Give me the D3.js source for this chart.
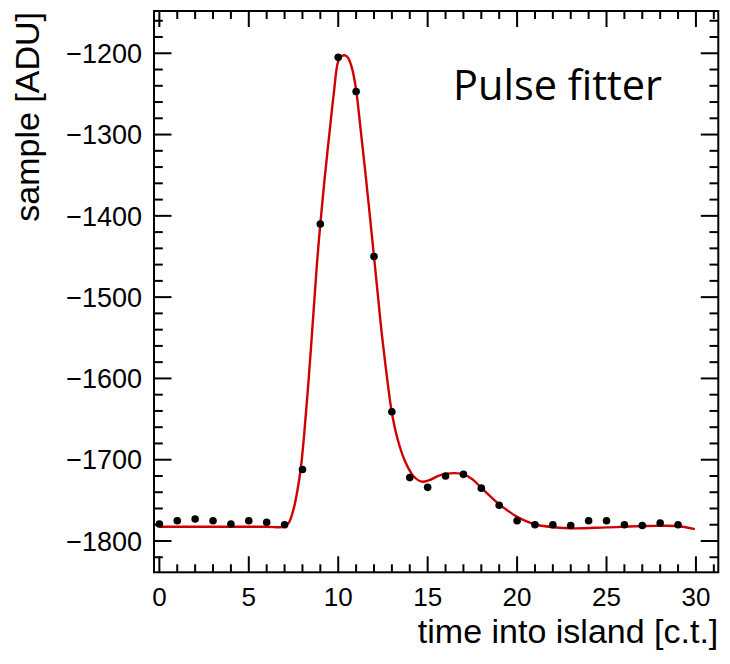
<!DOCTYPE html>
<html>
<head>
<meta charset="utf-8">
<script src="https://cdn.jsdelivr.net/npm/d3@7"></script>
<style>
  html, body { margin: 0; padding: 0; background: #fff; }
  svg { display: block; }
</style>
</head>
<body>
<svg id="chart" width="730" height="664"></svg>
<script>
// ---- data ----
const sampleTimes = [0,1,2,3,4,5,6,7,8,9,10,11,12,13,14,15,16,17,18,19,20,21,22,23,24,25,26,27,28,29];
const sampleValues = [-1779,-1775,-1773,-1775,-1779,-1775,-1777,-1780,-1712,-1410,-1205,-1247,-1450,-1641,
                      -1722,-1734,-1720,-1718,-1735,-1756,-1775,-1780,-1780,-1781,-1775,-1775,-1780,-1781,-1778,-1780];

// fitted pulse curve
const fitTimes  = [0, 3, 6, 7.0, 7.25, 7.5, 7.7, 7.9, 8.1, 8.35, 8.6, 8.8, 9.0, 9.25, 9.5, 9.75, 10.0, 10.2, 10.35,
                   10.55, 10.8, 11.0, 11.25, 11.5, 11.75, 12.0, 12.25, 12.45, 12.7, 12.99, 13.3, 13.7, 14.2, 14.67,
                   15.1, 15.6, 16.0, 16.53, 17.0, 17.5, 17.93, 18.45, 18.95, 19.5, 19.98, 20.5, 21.1, 22.02, 23.14,
                   25.0, 27.24, 28.92, 29.94];
const fitValues = [-1782.5, -1782.5, -1782.5, -1782.3, -1777, -1761, -1740, -1712, -1668, -1600, -1524, -1462, -1410,
                   -1352, -1300, -1250, -1210, -1203.5, -1202.5, -1205.5, -1221, -1245, -1293, -1343, -1396, -1450,
                   -1505, -1548, -1594, -1641, -1673, -1700, -1720, -1727, -1725, -1720, -1717.5, -1716.5, -1718,
                   -1724, -1733, -1744, -1754, -1763, -1770, -1775.5, -1780, -1783, -1784.4, -1783.2, -1781.6,
                   -1781.6, -1785.3];

const xMajorTicks = [0, 5, 10, 15, 20, 25, 30];
const xTickLabels = ["0", "5", "10", "15", "20", "25", "30"];
const yMajorTicks = [-1800, -1700, -1600, -1500, -1400, -1300, -1200];
const yTickLabels = ["\u22121800", "\u22121700", "\u22121600", "\u22121500", "\u22121400", "\u22121300", "\u22121200"];
const xMinorTicks = d3.range(0, 32, 1);
const yMinorTicks = d3.range(-1820, -1150, 20);

const xTitle = "time into island [c.t.]";
const yTitle = "sample [ADU]";
const label = "Pulse fitter";

// ---- layout ----
const frame = { left: 154, right: 718.3, top: 11, bottom: 572.3 };
const x = d3.scaleLinear().domain([-0.3, 31.25]).range([frame.left, frame.right]);
const y = d3.scaleLinear().domain([-1838.5, -1148]).range([frame.bottom, frame.top]);

const svg = d3.select("#chart");
const fontAxis = "'Liberation Sans', Arial, Helvetica, sans-serif";

// ticks on all four sides, pointing inward
const xMajLen = 16, xMinLen = 8, yMajLen = 17.5, yMinLen = 8.8;
const tickG = svg.append("g").attr("stroke", "#000").attr("stroke-width", 2);

function vTicks(vals, len, yEdge, dir) {
  tickG.selectAll(null).data(vals).enter().append("line")
    .attr("x1", d => x(d)).attr("x2", d => x(d))
    .attr("y1", yEdge).attr("y2", yEdge + dir * len);
}
function hTicks(vals, len, xEdge, dir) {
  tickG.selectAll(null).data(vals).enter().append("line")
    .attr("y1", d => y(d)).attr("y2", d => y(d))
    .attr("x1", xEdge).attr("x2", xEdge + dir * len);
}
const xMinorOnly = xMinorTicks.filter(v => !xMajorTicks.includes(v));
const yMinorOnly = yMinorTicks.filter(v => !yMajorTicks.includes(v));
vTicks(xMajorTicks, xMajLen, frame.bottom, -1);
vTicks(xMinorOnly, xMinLen, frame.bottom, -1);
vTicks(xMajorTicks, xMajLen, frame.top, 1);
vTicks(xMinorOnly, xMinLen, frame.top, 1);
hTicks(yMajorTicks, yMajLen, frame.left, 1);
hTicks(yMinorOnly, yMinLen, frame.left, 1);
hTicks(yMajorTicks, yMajLen, frame.right, -1);
hTicks(yMinorOnly, yMinLen, frame.right, -1);

// frame
svg.append("rect")
  .attr("x", frame.left).attr("y", frame.top)
  .attr("width", frame.right - frame.left).attr("height", frame.bottom - frame.top)
  .attr("fill", "none").attr("stroke", "#000").attr("stroke-width", 2);

// tick labels
svg.append("g").selectAll("text").data(xMajorTicks).enter().append("text")
  .attr("x", d => x(d)).attr("y", 606)
  .attr("text-anchor", "middle")
  .attr("font-family", fontAxis).attr("font-size", 26).attr("fill", "#000")
  .text((d, i) => xTickLabels[i]);

svg.append("g").selectAll("text").data(yMajorTicks).enter().append("text")
  .attr("x", frame.left - 12).attr("y", d => y(d))
  .attr("dy", "0.36em")
  .attr("text-anchor", "end")
  .attr("font-family", fontAxis).attr("font-size", 27).attr("fill", "#000")
  .text((d, i) => yTickLabels[i]);

// axis titles
svg.append("text")
  .attr("x", frame.right).attr("y", 643)
  .attr("text-anchor", "end")
  .attr("font-family", fontAxis).attr("font-size", 34).attr("fill", "#000")
  .text(xTitle);

svg.append("text")
  .attr("transform", `translate(39, ${frame.top + 1}) rotate(-90)`)
  .attr("text-anchor", "end")
  .attr("font-family", fontAxis).attr("font-size", 34).attr("fill", "#000")
  .text(yTitle);

// fit curve
const fitData = fitTimes.map((t, i) => [t, fitValues[i]]);
const line = d3.line().x(d => x(d[0])).y(d => y(d[1])).curve(d3.curveCatmullRom.alpha(0.5));
svg.append("path")
  .attr("d", line(fitData))
  .attr("fill", "none").attr("stroke", "#d10000").attr("stroke-width", 2.4);

// samples
svg.append("g").selectAll("circle").data(sampleTimes).enter().append("circle")
  .attr("cx", d => x(d)).attr("cy", (d, i) => y(sampleValues[i]))
  .attr("r", 3.8).attr("fill", "#000");

// label
svg.append("text")
  .attr("x", 453).attr("y", 100)
  .attr("font-family", "'Open Sans', 'Noto Sans', sans-serif").attr("font-size", 41.5).attr("fill", "#000")
  .text(label);
</script>
</body>
</html>
